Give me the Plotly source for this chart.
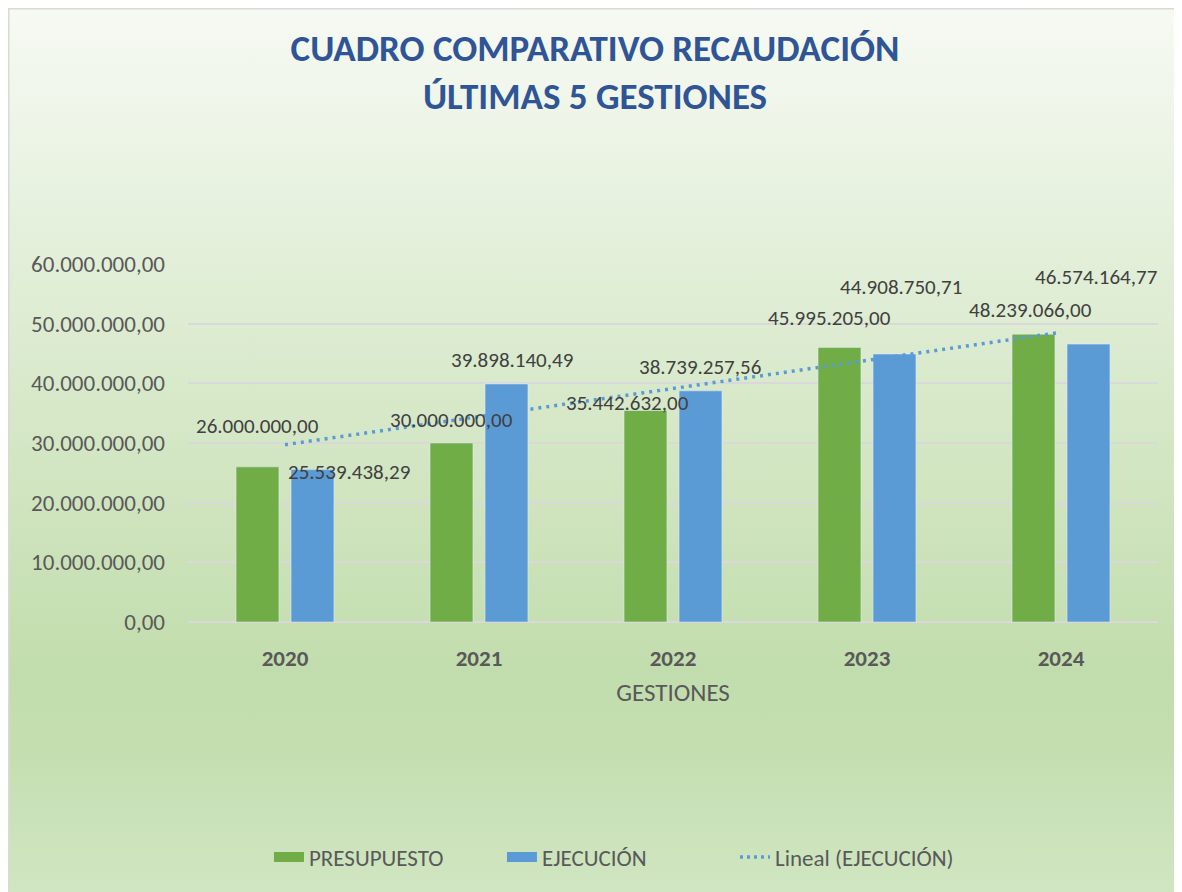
"""Cuadro comparativo de recaudación, últimas 5 gestiones."""

import base64

import numpy as np
import plotly.graph_objects as go

gestiones = ["2020", "2021", "2022", "2023", "2024"]
presupuesto = [26000000.00, 30000000.00, 35442632.00, 45995205.00, 48239066.00]
ejecucion = [25539438.29, 39898140.49, 38739257.56, 44908750.71, 46574164.77]
y_ticks = [0, 10000000, 20000000, 30000000, 40000000, 50000000, 60000000]

# label offsets in px (dx, dy) relative to the top-centre of each bar
pres_label_offsets = [(0, 41), (0, 23), (-18, 8), (-10, 30), (-3, 24)]
ejec_label_offsets = [(36, -2), (5, 24), (-1, 24), (6, 67), (7, 67)]

# the page body adds an 8px margin, so the figure is laid out 8px smaller
W, H = 1174, 884
L, R, T, B = 180, 1150, 256, 614
GREEN = "#70AD47"
BLUE = "#5B9BD5"
GREY = "#595959"
FONT = "Carlito, Calibri, Lato, sans-serif"


def fmt_es(v):
    return f"{v:,.2f}".replace(",", "X").replace(".", ",").replace("X", ".")


def px_x(px):
    return (px - L) / (R - L)


def px_y(py):
    return (B - py) / (B - T)


# linear trend of EJECUCIÓN, as Excel's "Lineal" trendline
idx = np.arange(1, len(ejecucion) + 1)
slope, intercept = np.polyfit(idx, ejecucion, 1)
trend = slope * idx + intercept

svg = (
    '<svg xmlns="http://www.w3.org/2000/svg" width="100" height="100" preserveAspectRatio="none">'
    '<defs><linearGradient id="g" x1="0" y1="0" x2="0" y2="1">'
    '<stop offset="0" stop-color="#F7FAF4"/>'
    '<stop offset="0.74" stop-color="#C2DDAD"/>'
    '<stop offset="0.83" stop-color="#C4DEB0"/>'
    '<stop offset="1" stop-color="#D1E6C3"/>'
    '</linearGradient></defs>'
    '<rect width="100" height="100" fill="url(#g)" stroke="none"/></svg>'
)
bg_src = "data:image/svg+xml;base64," + base64.b64encode(svg.encode()).decode()

fig = go.Figure()
fig.add_trace(go.Bar(name="PRESUPUESTO", x=gestiones, y=presupuesto, marker_color=GREEN, showlegend=False))
fig.add_trace(go.Bar(name="EJECUCIÓN", x=gestiones, y=ejecucion, marker_color=BLUE, showlegend=False))
fig.add_trace(
    go.Scatter(
        name="Lineal (EJECUCIÓN)",
        x=gestiones,
        y=trend,
        mode="lines",
        line=dict(color=BLUE, width=3.5, dash="3px,5px"),
        showlegend=False,
    )
)

# legend entries drawn as wide swatches, like the spreadsheet legend
for name, color, dash, width in (
    ("PRESUPUESTO", GREEN, "solid", 16),
    ("EJECUCIÓN", BLUE, "solid", 16),
    ("Lineal (EJECUCIÓN)", BLUE, "3px,4px", 3.5),
):
    fig.add_trace(
        go.Scatter(
            name=name,
            x=[None],
            y=[None],
            mode="lines",
            line=dict(color=color, width=width, dash=dash),
        )
    )

# category positions are given by index: "2020" would be read as index 2020
for i in range(len(gestiones)):
    for vals, offs, side in ((presupuesto, pres_label_offsets, -1), (ejecucion, ejec_label_offsets, 1)):
        dx, dy = offs[i]
        fig.add_annotation(
            x=i,
            y=vals[i],
            text=fmt_es(vals[i]),
            showarrow=False,
            xshift=side * 27.5 + dx,
            yshift=dy,
            font=dict(family=FONT, size=21, color="#404040"),
        )

fig.add_layout_image(
    source=bg_src,
    xref="paper",
    yref="paper",
    x=px_x(0),
    y=px_y(-4),
    sizex=W / (R - L),
    sizey=(H + 14) / (B - T),
    sizing="stretch",
    layer="below",
)
fig.add_shape(
    type="rect",
    xref="paper",
    yref="paper",
    x0=px_x(0.75),
    x1=px_x(W + 5),
    y0=px_y(H + 5),
    y1=px_y(0.75),
    line=dict(color="#D9D9D9", width=1.5),
    layer="below",
)

fig.update_layout(
    width=W,
    height=H,
    margin=dict(l=L, r=W - R, t=T, b=H - B),
    paper_bgcolor="white",
    plot_bgcolor="rgba(0,0,0,0)",
    separators=",.",
    barmode="group",
    bargap=0.433,
    bargroupgap=0.22,
    font=dict(family=FONT, color=GREY),
    title=dict(
        text="<b>CUADRO COMPARATIVO RECAUDACIÓN<br>ÚLTIMAS 5 GESTIONES</b>",
        x=0.5,
        xref="container",
        y=1 - 53 / H,
        yref="container",
        yanchor="middle",
        font=dict(family=FONT, size=37, color="#2F5597"),
    ),
    legend=dict(
        orientation="h",
        x=0.52,
        xanchor="center",
        xref="container",
        y=1 - 849 / H,
        yref="container",
        yanchor="middle",
        font=dict(family=FONT, size=23, color=GREY),
        bgcolor="rgba(0,0,0,0)",
        entrywidth=188,
        tracegroupgap=0,
    ),
    xaxis=dict(
        type="category",
        range=[-0.5, len(gestiones) - 0.5],
        showgrid=False,
        showline=False,
        ticks="",
        tickfont=dict(family=FONT, size=23, color=GREY, weight="bold"),
        ticklabelstandoff=20,
        title=dict(text="GESTIONES", font=dict(family=FONT, size=25, color=GREY), standoff=12),
    ),
    yaxis=dict(
        range=[0, 60000000],
        tickvals=y_ticks,
        tickformat=",.2f",
        showgrid=True,
        gridcolor="#D9D9D9",
        gridwidth=1.5,
        zeroline=True,
        zerolinecolor="#D9D9D9",
        zerolinewidth=1.5,
        tickfont=dict(family=FONT, size=23, color=GREY),
        ticklabelstandoff=22,
    ),
)

fig.write_html("out.html")
